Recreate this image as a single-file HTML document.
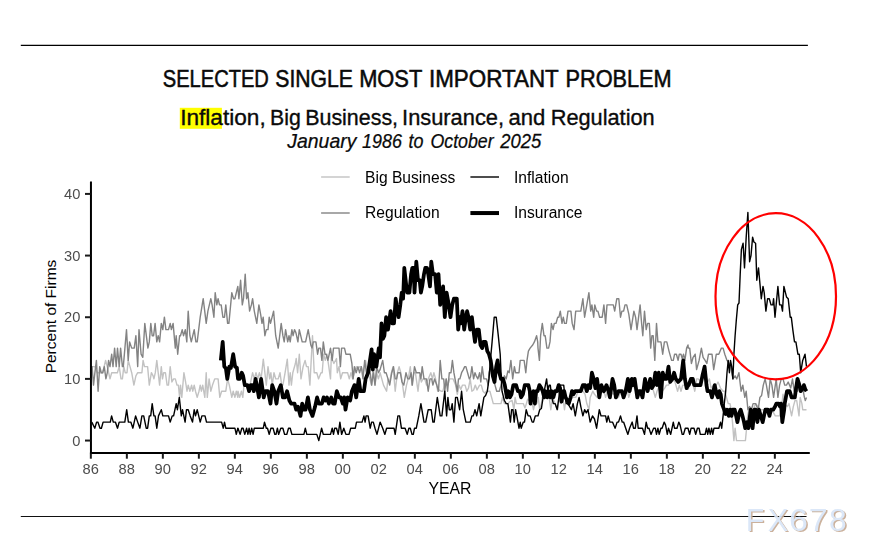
<!DOCTYPE html>
<html><head><meta charset="utf-8"><title>Selected Single Most Important Problem</title>
<style>
html,body{margin:0;padding:0;background:#fff;}
body{width:876px;height:556px;overflow:hidden;font-family:"Liberation Sans",sans-serif;}
svg{display:block;font-family:"Liberation Sans",sans-serif;}
</style></head>
<body>
<svg width="876" height="556" viewBox="0 0 876 556">
<rect width="876" height="556" fill="#ffffff"/>
<!-- rules -->
<line x1="20.8" y1="45.4" x2="807.9" y2="45.4" stroke="#000" stroke-width="1.15"/>
<!-- titles -->
<rect x="179.8" y="107.8" width="42.1" height="21" fill="#ffff00"/>
<text transform="translate(162.76,86.8) scale(0.8384,1)" font-size="24" fill="#0a0a0a" stroke="#0a0a0a" stroke-width="0.55">SELECTED</text>
<text transform="translate(275.32,86.8) scale(0.8826,1)" font-size="24" fill="#0a0a0a" stroke="#0a0a0a" stroke-width="0.55">SINGLE</text>
<text transform="translate(359.18,86.8) scale(0.9104,1)" font-size="24" fill="#0a0a0a" stroke="#0a0a0a" stroke-width="0.55">MOST</text>
<text transform="translate(428.93,86.8) scale(0.9336,1)" font-size="24" fill="#0a0a0a" stroke="#0a0a0a" stroke-width="0.55">IMPORTANT</text>
<text transform="translate(565.49,86.8) scale(0.9053,1)" font-size="24" fill="#0a0a0a" stroke="#0a0a0a" stroke-width="0.55">PROBLEM</text>
<text transform="translate(180.19,124.75) scale(1.0532,1)" font-size="21.5" fill="#0a0a0a" stroke="#0a0a0a" stroke-width="0.35">Inflation,</text>
<text transform="translate(270.12,124.75) scale(0.9893,1)" font-size="21.5" fill="#0a0a0a" stroke="#0a0a0a" stroke-width="0.35">Big</text>
<text transform="translate(305.21,124.75) scale(0.9966,1)" font-size="21.5" fill="#0a0a0a" stroke="#0a0a0a" stroke-width="0.35">Business,</text>
<text transform="translate(402.07,124.75) scale(1.0165,1)" font-size="21.5" fill="#0a0a0a" stroke="#0a0a0a" stroke-width="0.35">Insurance,</text>
<text transform="translate(508.47,124.75) scale(1.0265,1)" font-size="21.5" fill="#0a0a0a" stroke="#0a0a0a" stroke-width="0.35">and</text>
<text transform="translate(550.68,124.75) scale(1.0121,1)" font-size="21.5" fill="#0a0a0a" stroke="#0a0a0a" stroke-width="0.35">Regulation</text>
<text transform="translate(287.3,147.75) scale(0.996,1)" font-size="19.5" font-style="italic" fill="#0a0a0a" stroke="#0a0a0a" stroke-width="0.25">January</text>
<text transform="translate(362.08,147.75) scale(0.919,1)" font-size="19.5" font-style="italic" fill="#0a0a0a" stroke="#0a0a0a" stroke-width="0.25">1986</text>
<text transform="translate(408.48,147.75) scale(0.92,1)" font-size="19.5" font-style="italic" fill="#0a0a0a" stroke="#0a0a0a" stroke-width="0.25">to</text>
<text transform="translate(430.49,147.75) scale(0.9116,1)" font-size="19.5" font-style="italic" fill="#0a0a0a" stroke="#0a0a0a" stroke-width="0.25">October</text>
<text transform="translate(500.3,147.75) scale(0.9465,1)" font-size="19.5" font-style="italic" fill="#0a0a0a" stroke="#0a0a0a" stroke-width="0.25">2025</text>

<!-- legend -->
<g font-size="15.6" fill="#000" style="filter:grayscale(1)">
<line x1="321.1" y1="177" x2="349.7" y2="177" stroke="#c2c2c2" stroke-width="1.4"/>
<text x="365.1" y="182.5">Big Business</text>
<line x1="470.4" y1="177" x2="499" y2="177" stroke="#000" stroke-width="1.4"/>
<text x="514.0" y="182.5">Inflation</text>
<line x1="321.1" y1="213" x2="349.7" y2="213" stroke="#838383" stroke-width="1.4"/>
<text x="365.1" y="218.4">Regulation</text>
<line x1="470.4" y1="213.05" x2="499" y2="213.05" stroke="#000" stroke-width="4.0"/>
<text x="514.0" y="218.4">Insurance</text>
</g>
<!-- data -->
<g fill="none" stroke-linejoin="round" stroke-linecap="butt">
<path d="M90.8 366.6 L94.9 366.6 L97.2 372.7 L101.3 372.7 L102.7 372.7 L105.6 360.4 L107.3 366.6 L110.0 378.9 L111.7 372.7 L117.4 372.7 L119.2 366.6 L121.0 378.9 L122.4 378.9 L123.8 366.6 L125.2 372.7 L127.0 372.7 L128.2 360.4 L130.0 366.6 L131.7 372.7 L133.9 385.1 L135.9 375.8 L137.7 372.7 L141.9 372.7 L143.1 360.4 L144.5 366.6 L147.6 366.6 L149.3 385.1 L151.4 372.7 L153.1 375.8 L153.9 378.9 L155.3 372.7 L156.8 360.4 L158.2 372.7 L159.6 385.1 L161.3 366.6 L162.5 378.9 L163.7 372.7 L165.4 372.7 L167.1 385.1 L168.5 385.1 L170.2 366.6 L171.9 382.0 L173.6 378.9 L175.3 378.9 L177.0 385.1 L178.4 385.1 L179.6 397.4 L180.5 385.1 L181.8 397.4 L183.9 372.7 L185.6 382.0 L187.0 391.2 L188.2 385.1 L189.9 391.2 L191.6 385.1 L192.8 391.2 L194.2 385.1 L195.5 391.2 L197.2 397.4 L199.0 391.2 L200.2 385.1 L201.4 391.2 L202.7 385.1 L204.8 397.4 L206.2 372.7 L207.3 397.4 L209.1 378.9 L210.8 391.2 L212.5 385.1 L214.7 378.9 L218.1 378.9 L219.8 397.4 L221.6 391.2 L225.8 391.2 L227.6 378.9 L229.3 385.1 L231.8 397.4 L233.2 391.2 L234.9 397.4 L236.3 391.2 L237.8 397.4 L238.0 391.2 L239.7 397.4 L241.4 391.2 L242.8 397.4 L244.0 385.1 L246.6 385.1 L248.3 391.2 L250.0 385.1 L252.6 372.7 L254.3 378.9 L256.0 372.7 L257.7 378.9 L259.4 372.7 L261.1 378.9 L263.3 359.2 L266.3 385.1 L268.0 366.6 L269.7 378.9 L270.9 372.7 L272.2 385.1 L274.0 372.7 L275.7 378.9 L278.2 378.9 L280.0 372.7 L281.7 385.1 L282.9 385.1 L285.1 372.7 L287.3 359.2 L289.0 385.1 L290.2 372.7 L291.4 385.1 L292.8 372.7 L295.4 363.5 L296.2 358.5 L297.6 372.7 L299.3 354.2 L301.0 378.9 L303.1 366.6 L305.1 360.4 L306.5 366.6 L308.2 366.6 L309.9 385.1 L312.5 335.7 L314.2 372.7 L316.8 372.7 L318.5 378.9 L321.0 372.7 L322.2 372.7 L323.6 354.2 L325.3 360.4 L327.0 354.2 L328.8 366.6 L330.5 378.9 L331.3 357.3 L333.9 363.5 L336.5 358.5 L337.3 372.7 L339.0 366.6 L340.7 378.9 L342.5 372.7 L347.6 372.7 L349.3 378.9 L351.0 372.7 L352.7 378.9 L354.4 372.7 L356.2 366.6 L357.9 369.6 L359.6 366.6 L361.3 366.6 L363.0 372.7 L365.6 360.4 L367.3 372.7 L369.8 378.9 L371.6 385.1 L373.3 366.6 L375.0 385.1 L376.7 372.7 L378.4 378.9 L380.1 372.7 L381.8 378.9 L383.5 385.1 L386.6 391.2 L388.0 378.9 L389.7 382.0 L391.4 372.7 L393.1 366.6 L395.2 391.2 L397.4 372.7 L399.1 366.6 L400.8 372.7 L402.6 385.1 L404.3 397.4 L406.5 385.1 L408.2 378.9 L410.3 366.6 L412.0 385.1 L413.7 372.7 L415.4 372.7 L418.0 391.2 L419.7 375.8 L421.4 382.0 L423.1 378.9 L424.8 378.9 L426.5 385.1 L428.2 378.9 L430.8 372.7 L432.5 378.9 L433.9 372.7 L435.6 378.9 L437.7 391.2 L439.4 390.0 L441.1 391.2 L442.8 391.2 L444.5 385.1 L446.2 378.9 L447.9 385.1 L449.6 378.9 L453.1 378.9 L455.6 385.1 L457.3 394.3 L459.1 385.1 L460.8 389.4 L462.5 385.1 L465.1 385.1 L466.8 391.2 L468.5 388.1 L470.2 378.9 L471.9 391.2 L473.6 390.0 L475.3 385.1 L477.0 390.0 L479.6 385.1 L481.3 385.1 L483.0 391.2 L484.7 393.1 L486.5 391.2 L488.2 391.2 L489.9 391.2 L491.6 397.4 L493.3 403.6 L501.0 403.6 L502.4 397.4 L504.4 403.6 L506.2 403.6 L507.9 403.6 L509.6 401.7 L512.1 400.5 L513.9 409.7 L515.1 397.4 L516.4 403.6 L523.3 403.6 L525.0 407.9 L526.4 403.6 L527.6 399.2 L529.3 400.5 L531.8 400.5 L533.5 409.7 L534.9 403.6 L536.6 403.6 L538.0 400.5 L538.3 397.4 L539.7 409.7 L541.4 403.6 L542.3 397.4 L544.0 394.3 L546.6 397.4 L548.3 391.2 L550.8 409.7 L552.6 397.4 L555.1 403.6 L557.7 409.7 L559.4 397.4 L561.1 403.6 L562.8 397.4 L564.5 409.7 L566.3 397.4 L568.0 403.6 L569.7 403.6 L572.2 397.4 L575.7 397.4 L578.2 391.2 L580.8 388.1 L582.9 391.2 L585.1 394.3 L586.8 403.6 L589.0 409.7 L590.2 397.4 L592.8 391.2 L594.5 394.3 L597.1 397.4 L598.8 391.2 L601.4 391.2 L603.9 391.2 L605.6 397.4 L607.3 391.2 L609.9 391.2 L613.3 394.3 L615.9 391.2 L618.5 397.4 L621.0 391.2 L623.6 391.2 L626.2 385.1 L628.8 397.4 L630.5 391.2 L633.0 385.1 L635.6 391.2 L638.2 397.4 L640.7 391.2 L643.3 397.4 L645.9 385.1 L648.4 391.2 L651.0 385.1 L653.6 391.2 L655.3 397.4 L657.0 391.2 L659.6 385.1 L662.1 391.2 L664.7 388.1 L666.4 385.1 L668.5 385.1 L671.6 378.9 L675.0 382.0 L677.6 391.2 L679.3 385.1 L681.0 391.2 L682.7 385.1 L685.3 385.1 L688.0 388.1 L688.3 389.4 L689.7 385.1 L691.4 382.0 L693.1 385.1 L694.8 391.2 L696.6 378.9 L698.3 378.9 L700.0 380.7 L702.6 378.9 L705.1 372.7 L707.7 382.0 L709.4 378.9 L711.1 388.1 L713.7 385.1 L716.3 385.1 L718.0 382.0 L720.5 388.1 L723.1 391.2 L724.8 391.2 L726.5 397.4 L728.2 403.6 L730.0 403.6 L731.2 409.7 L732.5 422.1 L733.9 440.6 L735.1 428.2 L736.5 440.6 L745.4 440.6 L746.6 428.2 L747.6 415.9 L748.8 409.7 L750.5 412.8 L753.1 409.7 L755.6 403.6 L758.2 406.6 L759.9 409.7 L763.3 409.7 L766.8 412.8 L770.2 409.7 L773.6 412.8 L775.3 415.9 L779.6 415.9 L781.3 409.7 L783.0 394.3 L784.7 403.6 L787.3 406.6 L789.0 403.6 L791.6 415.9 L793.3 406.6 L795.0 400.5 L796.7 400.5 L799.0 415.9 L800.2 397.4 L801.9 403.6 L802.7 409.7 L806.5 409.7" stroke="#c2c2c2" stroke-width="1.4"/>
<path d="M90.8 366.6 L92.1 366.6 L93.5 385.1 L94.9 372.7 L96.4 360.4 L98.1 391.2 L99.7 366.6 L101.3 372.7 L102.7 372.7 L104.3 366.6 L105.9 378.9 L107.3 372.7 L108.6 360.4 L110.0 366.6 L111.7 354.2 L113.0 366.6 L114.6 348.1 L116.2 366.6 L117.5 348.1 L119.2 366.6 L120.6 348.1 L122.4 366.6 L123.3 366.6 L126.5 329.6 L128.2 360.4 L129.6 341.9 L131.7 348.1 L134.2 348.1 L135.9 335.7 L137.7 366.6 L139.0 329.6 L141.1 354.2 L142.8 357.3 L144.8 323.4 L147.9 348.1 L149.3 341.9 L150.8 323.4 L152.2 335.7 L153.6 335.7 L155.1 323.4 L156.8 341.9 L158.2 335.7 L159.6 341.9 L161.3 323.4 L162.8 329.6 L164.4 317.2 L165.9 329.6 L168.5 329.6 L170.2 323.4 L171.4 329.6 L173.1 323.4 L175.3 348.1 L176.2 335.7 L177.7 354.2 L179.6 335.7 L180.5 335.7 L182.2 329.6 L183.5 335.7 L185.3 329.6 L186.8 341.9 L188.2 311.1 L189.9 335.7 L191.3 341.9 L194.2 329.6 L195.9 341.9 L197.2 341.9 L200.2 317.2 L203.2 298.7 L206.2 323.4 L207.9 311.1 L210.8 298.7 L212.1 304.9 L213.9 317.2 L215.2 292.6 L216.8 304.9 L218.1 298.7 L219.5 304.9 L221.2 304.9 L222.9 317.2 L224.5 317.2 L225.8 304.9 L227.6 323.4 L228.9 323.4 L231.8 292.6 L233.5 298.7 L234.9 298.7 L237.8 286.4 L238.9 298.7 L240.6 280.2 L242.3 304.9 L243.5 298.7 L245.2 274.1 L246.6 298.7 L247.9 292.6 L249.6 311.1 L251.4 304.9 L252.6 298.7 L254.3 311.1 L256.8 323.4 L258.9 304.9 L260.6 314.1 L262.0 323.4 L263.2 317.2 L264.9 335.7 L266.3 329.6 L268.0 329.6 L269.2 317.2 L270.5 323.4 L273.6 311.1 L275.7 335.7 L278.2 348.1 L281.2 323.4 L282.9 335.7 L284.2 341.9 L285.6 329.6 L287.7 341.9 L289.0 335.7 L290.2 341.9 L291.9 329.6 L293.1 335.7 L294.5 329.6 L295.9 332.6 L297.9 341.9 L299.3 329.6 L302.2 341.9 L305.6 341.9 L308.2 329.6 L310.8 345.0 L312.0 348.1 L313.3 341.9 L315.9 341.9 L317.6 354.2 L318.8 348.1 L320.5 348.1 L321.9 360.4 L323.3 341.9 L325.0 354.2 L326.2 354.2 L327.9 360.4 L330.5 348.1 L332.2 360.4 L333.5 348.1 L339.0 348.1 L340.4 366.6 L341.6 348.1 L344.5 348.1 L345.9 354.2 L350.2 354.2 L351.9 363.5 L353.1 378.9 L354.4 366.6 L356.2 372.7 L357.9 366.6 L359.6 372.7 L361.3 366.6 L363.0 378.9 L364.7 360.4 L366.4 372.7 L368.1 366.6 L369.8 369.6 L371.6 385.1 L373.3 372.7 L375.0 385.1 L376.7 366.6 L378.4 372.7 L380.1 369.6 L382.7 360.4 L384.4 372.7 L386.1 372.7 L388.0 378.9 L389.7 385.1 L391.8 372.7 L393.5 366.6 L395.2 378.9 L396.6 378.9 L397.9 372.7 L400.3 372.7 L402.0 382.0 L403.8 385.1 L406.0 372.7 L407.7 378.9 L409.4 378.9 L411.1 372.7 L412.3 385.1 L414.5 366.6 L416.3 372.7 L419.7 372.7 L420.9 378.9 L422.2 366.6 L424.0 378.9 L426.5 378.9 L428.2 391.2 L430.0 378.9 L431.7 378.9 L432.9 385.1 L434.6 378.9 L436.8 385.1 L438.5 391.2 L440.2 360.4 L441.9 378.9 L443.7 378.9 L444.8 391.2 L446.2 378.9 L447.6 391.2 L449.3 372.7 L451.0 372.7 L452.4 360.4 L453.9 372.7 L455.6 382.0 L457.3 391.2 L458.5 378.9 L459.9 378.9 L461.6 372.7 L463.3 369.6 L464.7 366.6 L465.9 366.6 L467.6 372.7 L469.3 378.9 L470.5 377.0 L471.9 366.6 L473.6 378.9 L475.0 372.7 L476.2 375.8 L477.9 378.9 L479.6 372.7 L480.8 382.0 L482.2 366.6 L483.9 378.9 L486.5 378.9 L488.2 385.1 L489.0 372.7 L490.7 366.6 L492.8 378.9 L495.0 385.1 L496.7 391.2 L499.3 391.2 L501.0 385.1 L504.4 375.8 L506.2 378.9 L507.9 370.9 L509.2 372.7 L510.9 360.4 L512.7 378.9 L514.4 366.6 L515.6 372.7 L519.0 372.7 L520.2 360.4 L524.1 360.4 L525.8 372.7 L527.0 360.4 L528.4 351.1 L530.1 348.1 L532.7 345.0 L534.4 341.9 L536.6 335.7 L537.7 341.9 L538.0 348.1 L539.4 360.4 L540.6 335.7 L542.3 323.4 L544.0 335.7 L545.2 335.7 L546.9 348.1 L548.6 348.1 L550.0 341.9 L551.4 323.4 L553.1 329.6 L554.3 323.4 L556.0 323.4 L557.7 317.2 L558.9 317.2 L560.3 311.1 L562.0 323.4 L563.3 317.2 L564.5 323.4 L566.3 323.4 L568.0 311.1 L570.9 311.1 L572.2 323.4 L574.0 329.6 L575.7 311.1 L580.8 311.1 L582.9 298.7 L584.6 317.2 L586.8 304.9 L588.9 292.6 L590.7 311.1 L591.9 304.9 L593.7 317.2 L594.8 304.9 L596.6 311.1 L597.9 311.1 L599.6 317.2 L602.2 317.2 L603.9 304.9 L605.6 323.4 L607.0 304.9 L613.3 304.9 L614.7 311.1 L616.8 298.7 L618.8 298.7 L620.5 317.2 L621.9 311.1 L623.6 311.1 L625.0 304.9 L626.7 304.9 L628.8 314.1 L631.0 329.6 L633.9 311.1 L635.6 317.2 L637.0 329.6 L638.2 320.3 L640.1 304.9 L641.6 323.4 L642.8 335.7 L644.5 311.1 L646.2 329.6 L647.6 323.4 L649.3 323.4 L650.7 348.1 L651.9 335.7 L653.2 335.7 L654.8 360.4 L656.5 323.4 L657.9 341.9 L660.9 341.9 L662.7 354.2 L664.4 341.9 L666.8 341.9 L669.0 351.1 L671.6 360.4 L673.3 360.4 L674.6 354.2 L676.4 354.2 L678.1 360.4 L679.3 354.2 L681.0 354.2 L682.2 358.5 L683.5 354.2 L684.9 360.4 L686.6 348.1 L688.0 345.0 L688.3 348.1 L689.7 348.1 L691.4 363.5 L693.1 357.3 L695.2 354.2 L696.6 369.6 L699.1 360.4 L701.4 348.1 L703.1 357.3 L705.1 360.4 L706.8 363.5 L708.5 354.2 L712.0 354.2 L713.7 369.6 L716.3 354.2 L718.8 354.2 L721.4 348.1 L723.1 348.1 L724.8 354.2 L727.0 360.4 L729.1 363.5 L730.8 366.6 L732.9 378.9 L735.1 375.8 L736.8 378.9 L738.9 372.7 L741.1 391.2 L742.8 385.1 L744.8 397.4 L746.2 391.2 L747.9 409.7 L749.6 406.6 L751.4 409.7 L753.1 403.6 L755.6 403.6 L758.2 409.7 L759.9 397.4 L761.6 395.5 L763.3 385.1 L765.1 378.9 L766.4 385.1 L768.5 397.4 L770.2 378.9 L771.9 385.1 L773.6 397.4 L776.2 378.9 L777.9 397.4 L779.6 385.1 L781.3 378.9 L783.0 378.9 L784.7 385.1 L786.5 385.1 L788.2 382.0 L790.7 388.1 L792.5 378.9 L794.2 391.2 L795.9 385.1 L797.6 391.2 L799.3 382.0 L801.0 391.2 L802.7 388.1 L804.4 397.4 L805.3 400.5 L806.5 397.4" stroke="#838383" stroke-width="1.4"/>
<path d="M91.8 422.1 L94.8 428.2 L96.6 422.1 L97.9 422.1 L100.0 428.2 L101.4 428.2 L103.1 422.1 L110.3 422.1 L111.6 415.9 L113.3 422.1 L115.4 422.1 L117.5 428.2 L119.2 422.1 L124.8 422.1 L126.7 409.7 L128.4 422.1 L130.8 422.1 L132.9 428.2 L135.6 415.9 L137.7 422.1 L139.9 428.2 L141.9 415.9 L143.7 415.9 L146.2 428.2 L147.6 428.2 L149.3 415.9 L150.7 415.9 L152.2 403.6 L153.9 415.9 L155.1 415.9 L156.8 428.2 L158.5 415.9 L161.3 409.7 L162.8 415.9 L168.5 415.9 L170.2 422.1 L172.2 415.9 L173.6 415.9 L176.2 403.6 L177.4 409.7 L179.3 397.4 L181.3 415.9 L182.5 409.7 L185.1 422.1 L186.5 409.7 L188.2 409.7 L190.2 415.9 L192.5 422.1 L194.2 409.7 L195.5 415.9 L197.2 409.7 L200.2 422.1 L201.9 415.9 L205.0 415.9 L206.5 422.1 L221.6 422.1 L223.3 428.2 L224.5 422.1 L225.8 428.2 L234.9 428.2 L236.3 434.4 L237.8 428.2 L238.0 428.2 L240.1 434.4 L241.8 428.2 L243.1 428.2 L244.8 434.4 L246.6 428.2 L247.9 434.4 L249.1 428.2 L250.3 434.4 L251.7 428.2 L253.1 434.4 L254.3 428.2 L263.3 428.2 L264.5 422.1 L266.3 428.2 L267.5 428.2 L269.2 434.4 L270.9 428.2 L273.1 428.2 L274.8 434.4 L276.0 434.4 L277.4 428.2 L278.6 434.4 L280.8 428.2 L282.9 428.2 L284.6 434.4 L286.8 434.4 L288.5 428.2 L290.2 428.2 L291.9 434.4 L303.9 434.4 L305.3 428.2 L306.8 434.4 L316.8 434.4 L318.8 440.6 L321.6 428.2 L323.3 434.4 L330.5 434.4 L332.2 428.2 L333.5 434.4 L334.7 428.2 L336.5 428.2 L338.2 434.4 L339.9 422.1 L341.6 434.4 L343.8 428.2 L345.9 434.4 L349.0 434.4 L350.7 428.2 L355.3 428.2 L356.5 422.1 L362.1 422.1 L363.9 415.9 L365.1 422.1 L366.1 415.9 L368.1 415.9 L370.2 428.2 L371.6 422.1 L373.3 422.1 L375.0 428.2 L377.0 434.4 L380.1 422.1 L382.7 428.2 L384.9 434.4 L386.6 428.2 L388.0 428.2 L394.0 428.2 L395.2 434.4 L397.9 415.9 L399.6 415.9 L401.4 428.2 L405.1 428.2 L407.2 434.4 L408.9 428.2 L410.3 428.2 L412.0 434.4 L413.3 434.4 L414.5 428.2 L416.3 428.2 L418.8 415.9 L420.9 403.6 L424.0 422.1 L425.7 422.1 L428.2 409.7 L431.2 409.7 L432.9 422.1 L434.2 422.1 L437.3 397.4 L440.2 415.9 L441.9 415.9 L444.8 391.2 L446.6 415.9 L447.9 397.4 L449.3 409.7 L451.0 409.7 L452.2 403.6 L453.9 422.1 L455.6 397.4 L457.3 397.4 L459.6 409.7 L461.6 391.2 L463.3 409.7 L465.9 422.1 L470.2 422.1 L471.9 415.9 L473.3 415.9 L475.0 409.7 L476.7 415.9 L479.1 403.6 L480.8 415.9 L483.9 397.4 L485.6 395.5 L487.3 391.2 L489.0 378.9 L490.4 360.4 L492.1 341.9 L494.2 317.2 L496.2 317.2 L498.1 333.9 L500.2 354.2 L501.0 372.7 L502.0 391.2 L504.4 400.5 L506.2 403.6 L507.9 403.6 L510.4 422.1 L511.6 409.7 L513.0 409.7 L514.2 422.1 L515.6 409.7 L516.8 415.9 L519.0 428.2 L520.2 422.1 L521.2 428.2 L523.3 422.1 L524.5 422.1 L526.2 409.7 L528.1 415.9 L530.1 415.9 L532.2 422.1 L533.5 422.1 L535.3 415.9 L538.0 415.9 L539.7 409.7 L541.4 408.5 L543.1 397.4 L544.8 388.1 L546.6 378.9 L547.9 391.2 L549.1 385.1 L550.3 385.1 L551.7 397.4 L553.4 403.6 L555.1 403.6 L557.2 409.7 L558.9 397.4 L560.3 385.1 L563.7 385.1 L565.1 397.4 L566.3 403.6 L568.0 403.6 L569.7 406.6 L571.4 409.7 L573.1 403.6 L575.3 415.9 L577.4 403.6 L579.1 397.4 L580.8 406.6 L582.9 415.9 L584.6 409.7 L586.3 412.8 L588.0 409.7 L590.2 422.1 L592.5 415.9 L594.5 419.0 L596.6 428.2 L599.3 409.7 L601.0 415.9 L605.6 415.9 L606.8 422.1 L608.2 415.9 L609.9 422.1 L612.5 422.1 L615.1 428.2 L617.1 422.1 L618.5 422.1 L620.5 415.9 L622.2 422.1 L623.6 422.1 L625.7 428.2 L627.9 434.4 L629.6 428.2 L632.2 422.1 L633.5 428.2 L635.3 428.2 L637.0 415.9 L638.2 428.2 L642.5 428.2 L644.5 434.4 L646.2 422.1 L647.6 428.2 L649.0 428.2 L651.0 434.4 L653.6 428.2 L655.3 428.2 L656.5 434.4 L657.9 428.2 L659.2 434.4 L660.9 428.2 L662.1 428.2 L664.2 422.1 L665.6 425.1 L667.3 434.4 L668.5 428.2 L670.7 434.4 L673.3 422.1 L674.5 428.2 L677.0 428.2 L678.8 422.1 L680.1 425.1 L682.2 434.4 L683.5 434.4 L685.3 428.2 L688.0 428.2 L689.7 434.4 L691.1 428.2 L694.0 428.2 L695.7 434.4 L697.4 428.2 L699.1 428.2 L700.3 434.4 L705.1 434.4 L706.5 428.2 L707.7 434.4 L708.9 428.2 L710.3 434.4 L711.6 428.2 L712.8 434.4 L714.0 428.2 L715.4 428.2 L718.8 428.2 L720.5 422.1 L721.7 428.2 L723.1 415.9 L724.3 403.6 L725.7 391.2 L727.0 372.7 L728.2 360.4 L729.4 372.7 L730.5 360.4 L731.7 366.6 L732.9 378.9 L733.9 354.2 L735.1 335.7 L736.3 320.3 L737.7 304.9 L739.0 303.0 L740.2 274.1 L741.4 249.4 L743.1 243.2 L744.5 267.9 L746.2 237.1 L747.9 212.4 L749.6 261.7 L751.0 255.6 L752.6 237.1 L753.9 242.0 L755.6 243.2 L756.8 280.2 L758.5 267.9 L759.9 283.3 L761.3 298.7 L763.0 286.4 L764.2 292.6 L765.9 311.1 L767.6 298.7 L769.3 298.7 L771.0 304.9 L772.8 304.9 L773.6 298.7 L775.0 317.2 L777.9 286.4 L779.6 304.9 L781.3 304.9 L782.5 311.1 L783.9 286.4 L786.5 296.9 L788.2 298.7 L790.2 317.2 L791.3 317.2 L792.8 329.6 L794.5 341.9 L795.9 341.9 L797.9 354.2 L799.3 354.2 L800.7 372.7 L802.7 360.4 L805.0 354.2 L806.5 366.6" stroke="#000" stroke-width="1.4"/>
<path d="M220.8 360.4 L222.7 341.9 L224.3 366.6 L225.9 368.4 L227.3 378.9 L229.3 366.6 L230.9 367.8 L233.2 354.2 L235.1 366.6 L236.9 367.8 L238.0 378.9 L239.7 378.9 L241.8 372.7 L243.1 375.8 L244.8 385.1 L247.4 385.1 L249.1 391.2 L250.8 385.1 L252.6 385.1 L253.8 391.2 L255.5 378.9 L256.8 385.1 L258.9 397.4 L261.1 378.9 L262.8 391.2 L263.7 397.4 L265.4 391.2 L268.0 391.2 L270.5 403.6 L272.2 385.1 L274.3 391.2 L276.5 403.6 L278.2 391.2 L280.8 385.1 L282.9 397.4 L285.1 397.4 L287.1 391.2 L289.4 400.5 L291.1 403.6 L294.5 403.6 L296.2 409.7 L297.9 406.6 L300.5 415.9 L302.2 403.6 L303.9 409.7 L305.6 409.7 L307.9 397.4 L309.9 409.7 L312.5 415.9 L315.1 406.6 L317.1 397.4 L318.8 403.6 L321.9 403.6 L323.6 397.4 L325.3 400.5 L327.0 397.4 L328.8 403.6 L331.3 397.4 L333.0 403.6 L334.7 403.6 L336.8 391.2 L339.0 397.4 L340.7 397.4 L342.8 403.6 L344.2 397.4 L345.5 409.7 L347.6 397.4 L350.2 400.5 L351.9 391.2 L354.4 385.1 L356.2 397.4 L358.7 378.9 L360.4 391.2 L363.9 391.2 L365.6 378.9 L368.1 372.7 L371.6 349.3 L372.8 369.6 L374.1 354.2 L376.4 366.6 L378.8 348.1 L380.0 357.3 L381.5 323.4 L383.0 338.8 L384.4 335.7 L386.1 317.2 L387.7 323.4 L388.0 329.6 L390.6 311.1 L392.3 323.4 L394.0 323.4 L395.7 298.7 L397.4 311.1 L398.6 317.2 L400.3 304.9 L401.7 292.6 L403.1 298.7 L404.3 267.9 L406.0 283.3 L407.2 292.6 L409.4 292.6 L411.1 274.1 L412.3 267.9 L413.7 267.9 L414.5 292.6 L416.3 261.7 L418.0 280.2 L419.7 280.2 L420.9 292.6 L422.2 286.4 L424.0 274.1 L425.3 267.9 L427.0 267.9 L428.2 274.1 L430.0 286.4 L431.3 261.7 L432.9 274.1 L435.1 274.1 L436.8 292.6 L438.5 274.1 L440.2 304.9 L441.4 298.7 L443.1 286.4 L444.8 317.2 L446.6 292.6 L448.3 301.8 L450.5 317.2 L452.2 304.9 L453.9 298.7 L456.8 298.7 L458.2 329.6 L459.6 317.2 L460.8 323.4 L462.5 311.1 L464.2 329.6 L465.9 317.2 L467.1 311.1 L468.5 317.2 L470.2 329.6 L471.9 317.2 L473.3 329.6 L475.0 341.9 L476.7 329.6 L478.8 329.6 L480.5 345.0 L482.2 348.1 L483.5 341.9 L485.6 341.9 L487.3 351.1 L489.0 354.2 L490.7 360.4 L492.8 375.8 L494.5 382.0 L496.2 366.6 L497.6 360.4 L499.3 372.7 L501.0 378.9 L503.1 378.9 L504.8 385.1 L506.9 397.4 L508.4 391.2 L509.9 397.4 L511.5 394.3 L513.3 385.1 L516.1 385.1 L517.9 391.2 L519.7 391.2 L521.1 397.4 L522.9 394.3 L524.8 385.1 L528.4 385.1 L529.8 391.2 L530.5 403.6 L532.1 394.3 L533.5 391.2 L534.9 403.6 L536.2 391.2 L537.6 391.2 L539.4 385.1 L541.3 388.1 L542.7 391.2 L544.2 397.4 L545.7 391.2 L547.2 397.4 L548.8 391.2 L550.3 397.4 L551.8 391.2 L553.4 397.4 L555.0 391.2 L556.9 391.2 L558.7 385.1 L560.1 388.1 L561.5 401.7 L563.3 391.2 L564.2 391.2 L565.6 397.4 L567.4 400.5 L568.8 403.6 L570.6 397.4 L572.0 391.2 L573.4 394.3 L575.2 391.2 L578.9 391.2 L580.8 391.2 L582.9 385.1 L585.1 385.1 L586.8 391.2 L588.5 385.1 L590.2 388.1 L591.9 372.7 L593.7 378.9 L595.4 388.1 L597.1 378.9 L599.3 397.4 L601.4 385.1 L603.9 391.2 L606.5 385.1 L608.5 391.2 L609.9 397.4 L612.5 378.9 L614.2 385.1 L615.9 397.4 L618.5 391.2 L621.9 391.2 L623.6 397.4 L625.7 391.2 L627.9 378.9 L629.6 391.2 L631.8 378.9 L633.0 385.1 L634.7 378.9 L637.3 397.4 L639.0 391.2 L640.7 391.2 L642.5 397.4 L645.0 378.9 L647.6 391.2 L650.2 378.9 L651.9 388.1 L653.6 385.1 L655.3 372.7 L657.0 385.1 L658.7 372.7 L660.9 397.4 L662.7 372.7 L664.7 378.9 L666.4 378.9 L668.5 366.6 L670.2 382.0 L672.4 378.9 L674.1 372.7 L675.8 378.9 L678.1 382.0 L681.0 378.9 L683.2 360.4 L684.9 378.9 L686.6 388.1 L688.0 385.1 L688.7 385.1 L690.9 378.9 L692.8 378.9 L694.2 385.1 L700.5 385.1 L702.4 375.8 L704.6 366.6 L706.5 385.1 L707.5 391.2 L710.3 391.2 L712.0 397.4 L714.7 385.1 L716.6 394.3 L718.0 397.4 L719.3 391.2 L720.7 394.3 L721.9 403.6 L724.1 409.7 L725.5 414.0 L727.2 409.7 L728.7 415.9 L730.1 409.7 L731.5 415.9 L732.8 409.7 L734.7 409.7 L736.1 415.9 L737.4 422.1 L739.3 412.8 L740.7 409.7 L742.5 415.9 L744.0 422.1 L745.2 428.2 L747.1 422.1 L748.4 428.2 L750.7 409.7 L752.6 428.2 L754.4 409.7 L755.8 409.7 L757.4 422.1 L759.0 409.7 L760.8 415.9 L762.7 422.1 L764.0 415.9 L765.4 409.7 L767.7 409.7 L769.5 415.9 L770.9 409.7 L773.2 409.7 L775.1 406.6 L776.4 403.6 L778.7 403.6 L780.1 406.6 L781.0 403.6 L782.3 422.1 L784.2 409.7 L784.7 403.6 L787.0 391.2 L789.7 391.2 L791.6 397.4 L794.8 397.4 L796.1 388.1 L797.5 378.9 L799.4 385.1 L800.7 391.2 L802.1 389.4 L803.9 385.1 L805.3 389.4 L806.5 391.2" stroke="#000" stroke-width="3.75"/>
</g>
<!-- axes -->
<g stroke="#000" stroke-width="2.0" fill="none">
<line x1="90.95" y1="181.5" x2="90.95" y2="453.9"/>
<line x1="89.95" y1="452.95" x2="809.8" y2="452.95"/>
</g>
<g stroke="#1a1a1a" stroke-width="2.0" fill="none">
<line x1="90.85" y1="453.5" x2="90.85" y2="458.7"/><line x1="126.85" y1="453.5" x2="126.85" y2="458.7"/><line x1="162.85" y1="453.5" x2="162.85" y2="458.7"/><line x1="198.85" y1="453.5" x2="198.85" y2="458.7"/><line x1="234.85" y1="453.5" x2="234.85" y2="458.7"/><line x1="270.85" y1="453.5" x2="270.85" y2="458.7"/><line x1="306.85" y1="453.5" x2="306.85" y2="458.7"/><line x1="342.85" y1="453.5" x2="342.85" y2="458.7"/><line x1="378.85" y1="453.5" x2="378.85" y2="458.7"/><line x1="414.85" y1="453.5" x2="414.85" y2="458.7"/><line x1="450.85" y1="453.5" x2="450.85" y2="458.7"/><line x1="486.85" y1="453.5" x2="486.85" y2="458.7"/><line x1="522.85" y1="453.5" x2="522.85" y2="458.7"/><line x1="558.85" y1="453.5" x2="558.85" y2="458.7"/><line x1="594.85" y1="453.5" x2="594.85" y2="458.7"/><line x1="630.85" y1="453.5" x2="630.85" y2="458.7"/><line x1="666.85" y1="453.5" x2="666.85" y2="458.7"/><line x1="702.85" y1="453.5" x2="702.85" y2="458.7"/><line x1="738.85" y1="453.5" x2="738.85" y2="458.7"/><line x1="774.85" y1="453.5" x2="774.85" y2="458.7"/>
<line x1="85" y1="440.55" x2="90.5" y2="440.55"/><line x1="85" y1="378.89" x2="90.5" y2="378.89"/><line x1="85" y1="317.23" x2="90.5" y2="317.23"/><line x1="85" y1="255.57" x2="90.5" y2="255.57"/><line x1="85" y1="193.91" x2="90.5" y2="193.91"/>
</g>
<g font-size="14.67" fill="#4d4d4d" text-anchor="middle" style="filter:grayscale(1)"><text x="90.65" y="474.0">86</text><text x="126.65" y="474.0">88</text><text x="162.65" y="474.0">90</text><text x="198.65" y="474.0">92</text><text x="234.65" y="474.0">94</text><text x="270.65" y="474.0">96</text><text x="306.65" y="474.0">98</text><text x="342.65" y="474.0">00</text><text x="378.65" y="474.0">02</text><text x="414.65" y="474.0">04</text><text x="450.65" y="474.0">06</text><text x="486.65" y="474.0">08</text><text x="522.65" y="474.0">10</text><text x="558.65" y="474.0">12</text><text x="594.65" y="474.0">14</text><text x="630.65" y="474.0">16</text><text x="666.65" y="474.0">18</text><text x="702.65" y="474.0">20</text><text x="738.65" y="474.0">22</text><text x="774.65" y="474.0">24</text></g>
<g font-size="14.67" fill="#4d4d4d" text-anchor="end" style="filter:grayscale(1)"><text x="80.4" y="445.65">0</text><text x="80.4" y="383.99">10</text><text x="80.4" y="322.33">20</text><text x="80.4" y="260.67">30</text><text x="80.4" y="199.01">40</text></g>
<text x="450" y="493.8" font-size="15.8" text-anchor="middle" fill="#000" style="filter:grayscale(1)">YEAR</text>
<text transform="translate(56,316.5) rotate(-90)" font-size="15.5" text-anchor="middle" fill="#000">Percent of Firms</text>
<!-- ellipse -->
<ellipse cx="775.75" cy="296.25" rx="60.25" ry="83.05" fill="none" stroke="#ff0000" stroke-width="2.2"/>
<!-- watermark -->
<line x1="20.8" y1="516.45" x2="806.5" y2="516.45" stroke="#111" stroke-width="1.15"/>
<g opacity="0.92"><g font-size="32" fill="#c7ab94"><text transform="translate(747.26,532.10) scale(0.947,1)">F</text><text transform="translate(769.03,532.10) scale(0.968,1)">X</text><text transform="translate(790.47,532.10) scale(1.064,1)">6</text><text transform="translate(810.27,532.10) scale(1.064,1)">7</text><text transform="translate(830.51,532.10) scale(0.993,1)">8</text></g>
<g font-size="32" fill="#d9e6f8"><text transform="translate(745.86,531.00) scale(0.947,1)">F</text><text transform="translate(767.63,531.00) scale(0.968,1)">X</text><text transform="translate(789.07,531.00) scale(1.064,1)">6</text><text transform="translate(808.87,531.00) scale(1.064,1)">7</text><text transform="translate(829.11,531.00) scale(0.993,1)">8</text></g>
</g>
</svg>
</body></html>
